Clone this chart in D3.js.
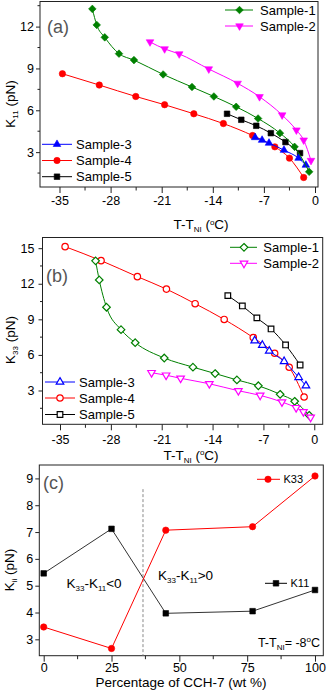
<!DOCTYPE html>
<html><head><meta charset="utf-8">
<script src="https://cdn.jsdelivr.net/npm/d3@7"></script>
<style>
body{margin:0;background:#fff}
svg{display:block}
text{font-family:"Liberation Sans",Arial,sans-serif;fill:#000}
</style>
</head><body>
<svg id="chart" width="328" height="694"></svg>
<script>
// ---------- DATA ----------
// Panel (a): K11 vs T-TNI
const a_s1_t = [-30.5, -29.9, -28.8, -26.85, -24.8, -20.8, -16.85, -13.85, -10.8, -7.8, -4.8, -2.8, -0.8];
const a_s1_k = [13.27, 12.12, 11.23, 10.06, 9.6, 8.57, 7.67, 6.99, 6.25, 5.41, 4.36, 3.38, 1.59];
const a_s2_t = [-22.6, -20.6, -18.6, -14.55, -10.6, -7.6, -4.5, -2.55, -1.55, -0.55];
const a_s2_k = [10.9, 10.4, 10.04, 8.96, 7.93, 6.97, 5.66, 4.58, 3.86, 2.4];
const a_s3_t = [-8.2, -7.25, -6.3, -4.25, -2.25, -1.25];
const a_s3_k = [4.05, 3.86, 3.65, 3.14, 2.57, 2.07];
const a_s4_t = [-34.6, -29.55, -24.55, -20.6, -16.6, -12.55, -8.55, -5.5, -3.5, -1.55];
const a_s4_k = [8.62, 7.81, 6.99, 6.40, 5.75, 5.05, 4.19, 3.38, 2.57, 1.18];
const a_s5_t = [-12.05, -10.1, -8.05, -6.05, -4.05, -2.05];
const a_s5_k = [5.75, 5.32, 4.89, 4.36, 3.72, 2.93];

// Panel (b): K33 vs T-TNI
const b_s1_t = [-30.1, -29.6, -28.6, -26.6, -24.65, -20.65, -16.7, -13.65, -10.65, -7.7, -4.7, -2.7, -0.7];
const b_s1_k = [13.93, 12.32, 10.02, 8.13, 7.03, 5.74, 4.97, 4.43, 3.89, 3.40, 2.68, 2.09, 0.91];
const b_s2_t = [-22.4, -20.4, -18.4, -14.45, -10.45, -7.45, -4.45, -2.5, -1.5, -0.5];
const b_s2_k = [4.50, 4.29, 4.03, 3.57, 2.98, 2.59, 2.03, 1.55, 1.21, 0.74];
const b_s3_t = [-8.2, -7.15, -6.2, -4.15, -2.15, -1.15];
const b_s3_k = [7.20, 6.82, 6.33, 5.45, 4.11, 3.40];
const b_s4_t = [-34.3, -29.35, -24.35, -20.35, -16.4, -12.4, -8.4, -5.45, -3.45, -1.4];
const b_s4_k = [15.13, 13.95, 12.6, 11.55, 10.32, 8.99, 7.46, 6.14, 4.96, 2.45];
const b_s5_t = [-11.9, -9.9, -7.9, -5.95, -3.95, -1.95];
const b_s5_k = [11.0, 10.13, 9.12, 8.19, 6.84, 5.15];

// Panel (c): Kii vs percentage of CCH-7
const c_pct = [0, 25, 45, 77, 100];
const c_k11 = [5.46, 7.12, 3.97, 4.05, 4.84];
const c_k33 = [3.46, 2.66, 7.07, 7.2, 9.09];
const c_boundary = 36.6;

// ticks
const tempTicks = [-35, -28, -21, -14, -7, 0];
const tempMinor = [-31.5, -24.5, -17.5, -10.5, -3.5];
const aYTicks = [3, 6, 9, 12];
const aYMinor = [1.5, 4.5, 7.5, 10.5, 13.5];
const bYTicks = [3, 6, 9, 12, 15];
const bYMinor = [1.5, 4.5, 7.5, 10.5, 13.5];
const cXTicks = [0, 25, 50, 75, 100];
const cXMinor = [12.5, 37.5, 62.5, 87.5];
const cYTicks = [3, 4, 5, 6, 7, 8, 9];

const sampleNames = ["Sample-1", "Sample-2", "Sample-3", "Sample-4", "Sample-5"];
const sampleColors = ["#008000", "#ff00ff", "#0000ff", "#ff0000", "#000000"];
const sampleShapes = ["diamond", "tridown", "triup", "circle", "square"];

// ---------- DRAW ----------
const svg = d3.select("#chart");
const AX = "#222";

function markerPath(shape) {
  const r = 3.8, s = 7.6, h = s * Math.sqrt(3) / 2;
  switch (shape) {
    case "diamond": return `M0,${-r}L${r},0L0,${r}L${-r},0Z`;
    case "triup": return `M0,${-2*h/3}L${s/2},${h/3}L${-s/2},${h/3}Z`;
    case "tridown": return `M0,${2*h/3}L${s/2},${-h/3}L${-s/2},${-h/3}Z`;
    case "square": return `M-2.8,-2.8H2.8V2.8H-2.8Z`;
    case "circle": return d3.symbol(d3.symbolCircle, Math.PI * 3.2 * 3.2)();
  }
}

function drawMarker(g, shape, color, x, y, filled) {
  g.append("path").attr("d", markerPath(shape))
    .attr("transform", `translate(${x},${y})`)
    .attr("fill", filled ? color : "#fff")
    .attr("stroke", color).attr("stroke-width", filled ? 0.6 : 1.2);
}

function frameAxes(g, x, y, o) {
  const [x0, x1] = x.range(), [y0, y1] = y.range();
  const xa = g.append("g").attr("transform", `translate(0,${y0})`)
    .call(d3.axisBottom(x).tickValues(o.xt).tickSize(6).tickSizeOuter(0).tickPadding(o.xpad).tickFormat(d => String(d)));
  xa.select(".domain").remove();
  xa.selectAll("text").attr("font-size", 12.5);
  xa.selectAll("line").attr("stroke", AX);
  g.append("g").selectAll("line").data(o.xm).join("line")
    .attr("x1", d => x(d)).attr("x2", d => x(d)).attr("y1", y0).attr("y2", y0 + 3.5).attr("stroke", AX);
  const ya = g.append("g").attr("transform", `translate(${x0},0)`)
    .call(d3.axisLeft(y).tickValues(o.yt).tickSize(4).tickSizeOuter(0).tickPadding(o.ypad).tickFormat(d => String(d)));
  ya.select(".domain").remove();
  ya.selectAll("text").attr("font-size", 12.5);
  ya.selectAll("line").attr("stroke", AX);
  g.append("g").selectAll("line").data(o.ym).join("line")
    .attr("x1", x0).attr("x2", x0 - 2.5).attr("y1", d => y(d)).attr("y2", d => y(d)).attr("stroke", AX);
  g.append("rect").attr("x", x0).attr("y", y1).attr("width", x1 - x0).attr("height", y0 - y1)
    .attr("fill", "none").attr("stroke", AX).attr("stroke-width", 1);
}

function panelLabel(g, txt, x, y) {
  g.append("text").attr("x", x).attr("y", y).attr("font-size", 18).style("fill", "#555").text(txt);
}

function tempXLabel(g, cx, by) {
  const t = g.append("text").attr("x", cx).attr("y", by).attr("text-anchor", "middle").attr("font-size", 13.5);
  t.append("tspan").text("T-T");
  t.append("tspan").attr("font-size", 8).attr("dy", 3).text("NI");
  t.append("tspan").attr("dy", -3).text(" (");
  t.append("tspan").attr("font-size", 8).attr("dy", -4.5).text("o");
  t.append("tspan").attr("dy", 4.5).text("C)");
}

function yLabel(g, x, cy, sub) {
  const t = g.append("text").attr("transform", `translate(${x},${cy}) rotate(-90)`)
    .attr("text-anchor", "middle").attr("font-size", 13.5);
  t.append("tspan").text("K");
  t.append("tspan").attr("font-size", 8).attr("dy", 3).text(sub);
  t.append("tspan").attr("dy", -3).text(" (pN)");
}

function legendItem(g, shape, color, filled, lx0, lx1, mx, tx, y, label, fs) {
  g.append("line").attr("x1", lx0).attr("x2", lx1).attr("y1", y).attr("y2", y).attr("stroke", color).attr("stroke-width", 1);
  drawMarker(g, shape, color, mx, y, filled);
  g.append("text").attr("x", tx).attr("y", y).attr("dy", "0.35em").attr("font-size", fs).text(label);
}

function drawSeries(g, x, y, ts, ks, i, filled, curve) {
  const pts = ts.map((t, j) => [x(t), y(ks[j])]);
  g.append("path").attr("d", d3.line().curve(curve)(pts))
    .attr("fill", "none").attr("stroke", sampleColors[i]).attr("stroke-width", 1);
  pts.forEach(p => drawMarker(g, sampleShapes[i], sampleColors[i], p[0], p[1], filled));
}

// ---- Panel (a) ----
{
  const g = svg.append("g");
  const x = d3.scaleLinear().domain([-37.67, 0.41]).range([40, 318]);
  const y = d3.scaleLinear().domain([0.5, 13.8]).range([187, 1.5]);
  frameAxes(g, x, y, {xt: tempTicks, xm: tempMinor, yt: aYTicks, ym: aYMinor, xpad: 3, ypad: 2});
  const ts = [a_s1_t, a_s2_t, a_s3_t, a_s4_t, a_s5_t];
  const ks = [a_s1_k, a_s2_k, a_s3_k, a_s4_k, a_s5_k];
  [3, 4, 2, 0, 1].forEach(i => drawSeries(g, x, y, ts[i], ks[i], i, true, d3.curveMonotoneX));
  panelLabel(g, "(a)", 47, 33);
  tempXLabel(g, 201, 229);
  yLabel(g, 14.5, 104, "11");
  legendItem(g, "diamond", sampleColors[0], true, 225, 253, 239.5, 260, 10, sampleNames[0], 13);
  legendItem(g, "tridown", sampleColors[1], true, 225, 253, 239.5, 260, 26, sampleNames[1], 13);
  legendItem(g, "triup", sampleColors[2], true, 42, 72, 57, 76, 144.3, sampleNames[2], 13);
  legendItem(g, "circle", sampleColors[3], true, 42, 72, 57, 76, 160.5, sampleNames[3], 13);
  legendItem(g, "square", sampleColors[4], true, 42, 72, 57, 76, 176.7, sampleNames[4], 13);
}

// ---- Panel (b) ----
{
  const g = svg.append("g");
  const x = d3.scaleLinear().domain([-37.41, 1.16]).range([42.5, 322.7]);
  const y = d3.scaleLinear().domain([0.15, 15.9]).range([424.3, 237.5]);
  frameAxes(g, x, y, {xt: tempTicks, xm: tempMinor, yt: bYTicks, ym: bYMinor, xpad: 4.5, ypad: 4});
  const ts = [b_s1_t, b_s2_t, b_s3_t, b_s4_t, b_s5_t];
  const ks = [b_s1_k, b_s2_k, b_s3_k, b_s4_k, b_s5_k];
  [3, 4, 2, 0, 1].forEach(i => drawSeries(g, x, y, ts[i], ks[i], i, false, d3.curveMonotoneX));
  panelLabel(g, "(b)", 46, 282);
  tempXLabel(g, 191, 459.5);
  yLabel(g, 15, 340, "33");
  legendItem(g, "diamond", sampleColors[0], false, 230, 257, 244, 263.3, 247.3, sampleNames[0], 13);
  legendItem(g, "tridown", sampleColors[1], false, 230, 257, 244, 263.3, 263.3, sampleNames[1], 13);
  legendItem(g, "triup", sampleColors[2], false, 45, 75, 60, 79, 382, sampleNames[2], 13);
  legendItem(g, "circle", sampleColors[3], false, 45, 75, 60, 79, 398, sampleNames[3], 13);
  legendItem(g, "square", sampleColors[4], false, 45, 75, 60, 79, 414.5, sampleNames[4], 13);
}

// ---- Panel (c) ----
{
  const g = svg.append("g");
  const x = d3.scaleLinear().domain([-1.62, 103.06]).range([39.3, 323.3]);
  const y = d3.scaleLinear().domain([2.39, 9.5]).range([655.7, 465]);
  frameAxes(g, x, y, {xt: cXTicks, xm: cXMinor, yt: cYTicks, ym: [], xpad: 1.5, ypad: 2});
  g.append("line").attr("x1", x(c_boundary)).attr("x2", x(c_boundary))
    .attr("y1", y(8.6)).attr("y2", y(2.39)).attr("stroke", "#888").attr("stroke-dasharray", "3,2");
  const line = d3.line().x((d, j) => x(c_pct[j])).y(d => y(d));
  g.append("path").attr("d", line(c_k11)).attr("fill", "none").attr("stroke", "#333").attr("stroke-width", 1);
  g.append("path").attr("d", line(c_k33)).attr("fill", "none").attr("stroke", "#ff0000").attr("stroke-width", 1);
  c_k11.forEach((v, j) => drawMarker(g, "square", "#000", x(c_pct[j]), y(v), true));
  c_k33.forEach((v, j) => drawMarker(g, "circle", "#ff0000", x(c_pct[j]), y(v), true));
  panelLabel(g, "(c)", 43, 489);
  g.append("text").attr("x", 181).attr("y", 687).attr("text-anchor", "middle").attr("font-size", 13.5)
    .text("Percentage of CCH-7 (wt %)");
  yLabel(g, 13.5, 570, "ii");
  legendItem(g, "circle", "#ff0000", true, 257, 280, 268, 283.5, 479.3, "K33", 11);
  legendItem(g, "square", "#000", true, 265, 287, 276, 290.5, 583.3, "K11", 11);
  function kdiff(xx, yy, op) {
    const t = g.append("text").attr("x", xx).attr("y", yy).attr("font-size", 13.5);
    t.append("tspan").text("K");
    t.append("tspan").attr("font-size", 8).attr("dy", 3).text("33");
    t.append("tspan").attr("dy", -3).text("-K");
    t.append("tspan").attr("font-size", 8).attr("dy", 3).text("11");
    t.append("tspan").attr("dy", -3).text(op);
  }
  kdiff(66.5, 588, "<0");
  kdiff(158, 580, ">0");
  const tt = g.append("text").attr("x", 320).attr("y", 647).attr("text-anchor", "end").attr("font-size", 12.5);
  tt.append("tspan").text("T-T");
  tt.append("tspan").attr("font-size", 8).attr("dy", 3).text("NI");
  tt.append("tspan").attr("dy", -3).text("= -8");
  tt.append("tspan").attr("font-size", 8).attr("dy", -5).text("o");
  tt.append("tspan").attr("dy", 5).text("C");
}
</script>
</body></html>
